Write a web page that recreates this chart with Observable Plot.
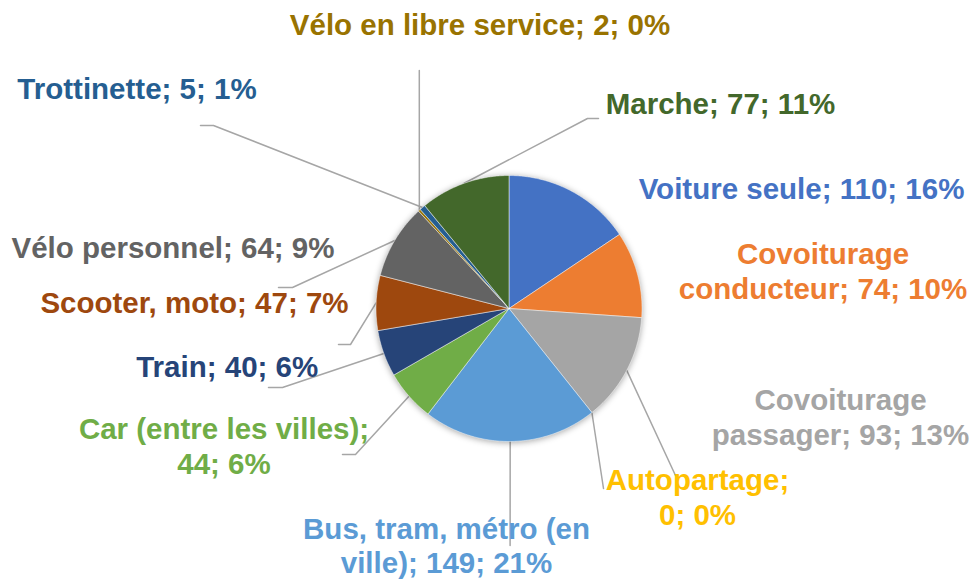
<!DOCTYPE html>
<html>
<head>
<meta charset="utf-8">
<script src="https://cdn.jsdelivr.net/npm/d3@7"></script>
<script src="https://cdn.jsdelivr.net/npm/@observablehq/plot@0.6"></script>
<style>
  html, body { margin: 0; padding: 0; background: #fff; }
  #chart { width: 970px; height: 579px; }
</style>
</head>
<body>
<div id="chart"></div>
<script>
// ---- data ----
const categories = [
  "Voiture seule", "Covoiturage conducteur", "Covoiturage passager", "Autopartage",
  "Bus, tram, métro (en ville)", "Car (entre les villes)", "Train", "Scooter, moto",
  "Vélo personnel", "Vélo en libre service", "Trottinette", "Marche"
];
const values = [110, 74, 93, 0, 149, 44, 40, 47, 64, 2, 5, 77];
const colors = [
  "#4472C4", "#ED7D31", "#A5A5A5", "#FFC000", "#5B9BD5", "#70AD47",
  "#264478", "#9E480E", "#636363", "#997300", "#255E91", "#43682B"
];

// ---- layout (positions in pixel units of the 970x579 frame) ----
const W = 970, H = 579;
const pieCenter = [508.5, 308], pieRadius = 133;
const labelPos = [
  [801, 187.5], [822.5, 270], [840, 416], [697, 496], [446, 544.5], [223.5, 445],
  [226.7, 365.7], [194, 301.4], [172.5, 246.7], [479.5, 23.5], [136.5, 87.5], [720, 102.5]
];
const labelBreak = [null, "Covoiturage ", "Covoiturage ", "Autopartage; ", "Bus, tram, métro (en ",
  "Car (entre les villes); ", null, null, null, null, null, null];
const leaderPts = [
  null, null, [[675, 475]], [[603, 488]], [[509.6, 545]], [[355, 454], [342, 454]],
  [[282, 387], [268, 387]], [[350, 344], [338, 344]], [[292, 287], [278, 287]],
  [[418.8, 70]], [[213, 125], [200, 125]], [[587, 118], [598, 118]]
];

// ---- computation ----
const total = d3.sum(values);
const arcs = d3.pie().sort(null).value(d => d)(values);
const pt = (a, rr) => [pieCenter[0] + rr * Math.sin(a), pieCenter[1] - rr * Math.cos(a)];

const slicePoints = [];
arcs.forEach((a, i) => {
  if (a.endAngle <= a.startAngle) return;
  const n = Math.max(2, Math.ceil((a.endAngle - a.startAngle) / (Math.PI / 360)));
  slicePoints.push({k: i, x: pieCenter[0], y: pieCenter[1], c: colors[i]});
  for (let j = 0; j <= n; j++) {
    const ang = a.startAngle + (a.endAngle - a.startAngle) * j / n;
    const [x, y] = pt(ang, pieRadius);
    slicePoints.push({k: i, x, y, c: colors[i]});
  }
  slicePoints.push({k: i, x: pieCenter[0], y: pieCenter[1], c: colors[i]});
});

const leaderData = [];
arcs.forEach((a, i) => {
  if (!leaderPts[i]) return;
  const mid = (a.startAngle + a.endAngle) / 2;
  const [x0, y0] = pt(mid, pieRadius);
  leaderData.push({k: i, x: x0, y: y0});
  leaderPts[i].forEach(([x, y]) => leaderData.push({k: i, x, y}));
});

const labels = categories.map((name, i) => {
  const pct = Math.round(values[i] / total * 100);
  let t = `${name}; ${values[i]}; ${pct}%`;
  if (labelBreak[i]) t = t.replace(labelBreak[i], labelBreak[i].trimEnd() + "\n");
  return {text: t, x: labelPos[i][0], y: labelPos[i][1], c: colors[i]};
});

const chart = Plot.plot({
  width: W,
  height: H,
  margin: 0,
  x: {domain: [0, W], range: [0, W], axis: null},
  y: {domain: [0, H], range: [0, H], axis: null},
  color: {type: "identity"},
  style: {background: "white"},
  marks: [
    Plot.line(leaderData, {x: "x", y: "y", z: "k", stroke: "#A6A6A6", strokeWidth: 1.5, curve: "linear"}),
    Plot.line(slicePoints, {x: "x", y: "y", z: "k", fill: "c", stroke: "white", strokeWidth: 0.6, strokeOpacity: 0.8}),
    Plot.text(labels, {
      x: "x", y: "y", text: "text", fill: "c",
      fontSize: 29.5, fontWeight: "bold", fontFamily: "Liberation Sans, Arial, sans-serif",
      lineHeight: 1.17, textAnchor: "middle", lineAnchor: "middle"
    })
  ]
});

const lineGroups = chart.querySelectorAll('g[aria-label="line"]');
if (lineGroups[1]) lineGroups[1].style.filter = "drop-shadow(0px 1px 3px rgba(0,0,0,0.35))";
document.getElementById("chart").appendChild(chart);
</script>
</body>
</html>
